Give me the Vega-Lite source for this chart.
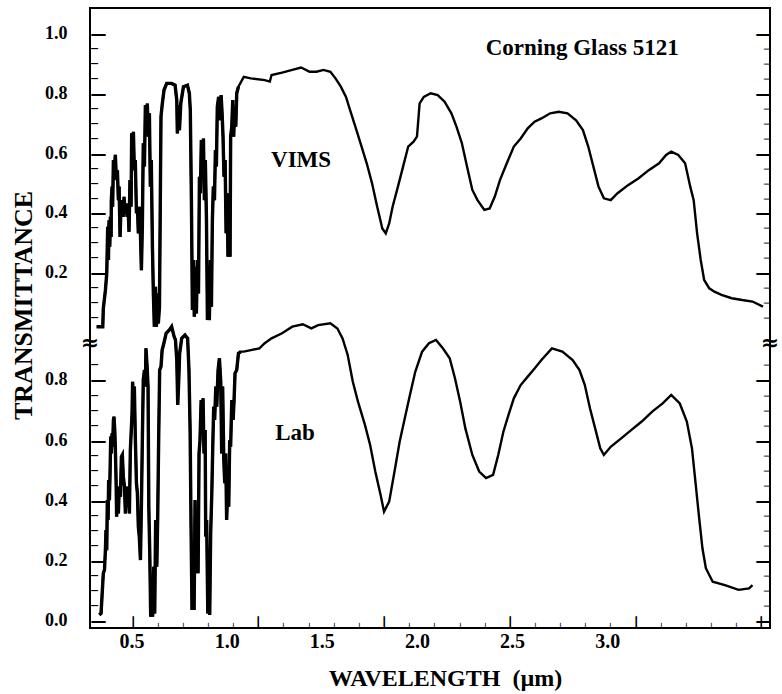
{
  "$schema": "https://vega.github.io/schema/vega-lite/v6.json",
  "width": 680,
  "height": 620,
  "autosize": "none",
  "padding": {"left": 90, "top": 8, "right": 12, "bottom": 66},
  "background": "white",
  "config": {
    "view": {"stroke": "black", "strokeWidth": 2, "fill": null},
    "font": "Liberation Serif",
    "axis": {
      "labelFont": "Liberation Serif", "labelFontWeight": "bold", "labelColor": "black",
      "titleFont": "Liberation Serif", "titleFontWeight": "bold", "titleColor": "black",
      "domain": false, "grid": false, "ticks": false, "labelOverlap": false, "labelFlush": false
    }
  },
  "datasets": {
    "vims": [
      {"w":0.317,"t":0.020},{"w":0.349,"t":0.020},{"w":0.352,"t":0.081},{"w":0.363,"t":0.142},{"w":0.370,"t":0.198},{"w":0.375,"t":0.354},{"w":0.379,"t":0.243},{"w":0.382,"t":0.376},{"w":0.386,"t":0.287},{"w":0.389,"t":0.387},{"w":0.393,"t":0.320},{"w":0.394,"t":0.443},{"w":0.398,"t":0.488},{"w":0.401,"t":0.421},{"w":0.405,"t":0.577},{"w":0.410,"t":0.543},{"w":0.415,"t":0.594},{"w":0.421,"t":0.510},{"w":0.426,"t":0.543},{"w":0.431,"t":0.443},{"w":0.435,"t":0.488},{"w":0.440,"t":0.320},{"w":0.445,"t":0.421},{"w":0.450,"t":0.443},{"w":0.456,"t":0.387},{"w":0.461,"t":0.454},{"w":0.466,"t":0.399},{"w":0.471,"t":0.432},{"w":0.477,"t":0.387},{"w":0.482,"t":0.421},{"w":0.487,"t":0.337},{"w":0.492,"t":0.510},{"w":0.498,"t":0.421},{"w":0.501,"t":0.666},{"w":0.506,"t":0.577},{"w":0.510,"t":0.671},{"w":0.515,"t":0.543},{"w":0.520,"t":0.577},{"w":0.526,"t":0.399},{"w":0.531,"t":0.421},{"w":0.536,"t":0.332},{"w":0.541,"t":0.421},{"w":0.547,"t":0.332},{"w":0.552,"t":0.209},{"w":0.557,"t":0.354},{"w":0.562,"t":0.633},{"w":0.568,"t":0.555},{"w":0.573,"t":0.761},{"w":0.578,"t":0.688},{"w":0.583,"t":0.766},{"w":0.589,"t":0.655},{"w":0.594,"t":0.733},{"w":0.599,"t":0.488},{"w":0.604,"t":0.577},{"w":0.610,"t":0.287},{"w":0.615,"t":0.131},{"w":0.620,"t":0.020},{"w":0.626,"t":0.153},{"w":0.631,"t":0.020},{"w":0.636,"t":0.131},{"w":0.641,"t":0.031},{"w":0.647,"t":0.087},{"w":0.652,"t":0.488},{"w":0.655,"t":0.722},{"w":0.662,"t":0.766},{"w":0.671,"t":0.811},{"w":0.685,"t":0.833},{"w":0.711,"t":0.833},{"w":0.729,"t":0.827},{"w":0.738,"t":0.777},{"w":0.741,"t":0.666},{"w":0.746,"t":0.761},{"w":0.752,"t":0.677},{"w":0.759,"t":0.766},{"w":0.773,"t":0.822},{"w":0.794,"t":0.827},{"w":0.804,"t":0.800},{"w":0.809,"t":0.744},{"w":0.815,"t":0.432},{"w":0.820,"t":0.076},{"w":0.825,"t":0.243},{"w":0.830,"t":0.053},{"w":0.836,"t":0.220},{"w":0.841,"t":0.064},{"w":0.846,"t":0.243},{"w":0.852,"t":0.131},{"w":0.857,"t":0.521},{"w":0.862,"t":0.466},{"w":0.867,"t":0.644},{"w":0.873,"t":0.577},{"w":0.878,"t":0.649},{"w":0.883,"t":0.443},{"w":0.888,"t":0.577},{"w":0.894,"t":0.376},{"w":0.899,"t":0.042},{"w":0.904,"t":0.220},{"w":0.909,"t":0.042},{"w":0.915,"t":0.243},{"w":0.920,"t":0.087},{"w":0.925,"t":0.376},{"w":0.930,"t":0.488},{"w":0.936,"t":0.443},{"w":0.941,"t":0.610},{"w":0.946,"t":0.555},{"w":0.951,"t":0.755},{"w":0.958,"t":0.788},{"w":0.965,"t":0.710},{"w":0.971,"t":0.794},{"w":0.976,"t":0.733},{"w":0.981,"t":0.655},{"w":0.986,"t":0.521},{"w":0.992,"t":0.577},{"w":0.997,"t":0.332},{"w":1.002,"t":0.466},{"w":1.007,"t":0.254},{"w":1.013,"t":0.332},{"w":1.018,"t":0.254},{"w":1.021,"t":0.655},{"w":1.027,"t":0.688},{"w":1.032,"t":0.777},{"w":1.037,"t":0.655},{"w":1.042,"t":0.744},{"w":1.048,"t":0.688},{"w":1.053,"t":0.800},{"w":1.062,"t":0.822},
      {"w":1.090,"t":0.855},{"w":1.127,"t":0.850},{"w":1.200,"t":0.844},{"w":1.227,"t":0.839},{"w":1.236,"t":0.861},{"w":1.291,"t":0.869},{"w":1.345,"t":0.878},{"w":1.391,"t":0.886},{"w":1.436,"t":0.872},{"w":1.472,"t":0.872},{"w":1.509,"t":0.878},{"w":1.545,"t":0.872},{"w":1.572,"t":0.850},{"w":1.600,"t":0.822},{"w":1.627,"t":0.788},{"w":1.654,"t":0.733},{"w":1.682,"t":0.677},{"w":1.709,"t":0.622},{"w":1.736,"t":0.566},{"w":1.764,"t":0.499},{"w":1.791,"t":0.421},{"w":1.818,"t":0.348},{"w":1.836,"t":0.332},{"w":1.854,"t":0.365},{"w":1.872,"t":0.421},{"w":1.900,"t":0.488},{"w":1.927,"t":0.555},{"w":1.954,"t":0.622},{"w":1.982,"t":0.638},{"w":2.000,"t":0.655},{"w":2.014,"t":0.766},{"w":2.036,"t":0.788},{"w":2.072,"t":0.800},{"w":2.109,"t":0.794},{"w":2.145,"t":0.772},{"w":2.181,"t":0.733},{"w":2.208,"t":0.688},{"w":2.236,"t":0.633},{"w":2.263,"t":0.555},{"w":2.291,"t":0.477},{"w":2.318,"t":0.443},{"w":2.354,"t":0.410},{"w":2.382,"t":0.415},{"w":2.409,"t":0.455},{"w":2.436,"t":0.510},{"w":2.472,"t":0.566},{"w":2.509,"t":0.622},{"w":2.545,"t":0.649},{"w":2.582,"t":0.683},{"w":2.618,"t":0.705},{"w":2.654,"t":0.716},{"w":2.700,"t":0.733},{"w":2.745,"t":0.738},{"w":2.791,"t":0.733},{"w":2.836,"t":0.710},{"w":2.872,"t":0.677},{"w":2.900,"t":0.622},{"w":2.927,"t":0.555},{"w":2.954,"t":0.488},{"w":2.982,"t":0.449},{"w":3.018,"t":0.443},{"w":3.054,"t":0.466},{"w":3.109,"t":0.493},{"w":3.163,"t":0.515},{"w":3.218,"t":0.543},{"w":3.272,"t":0.566},{"w":3.309,"t":0.594},{"w":3.336,"t":0.605},{"w":3.373,"t":0.594},{"w":3.409,"t":0.566},{"w":3.436,"t":0.488},{"w":3.454,"t":0.443},{"w":3.472,"t":0.332},{"w":3.491,"t":0.243},{"w":3.509,"t":0.176},{"w":3.536,"t":0.148},{"w":3.563,"t":0.137},{"w":3.600,"t":0.126},{"w":3.654,"t":0.115},{"w":3.709,"t":0.109},{"w":3.763,"t":0.104},{"w":3.818,"t":0.087}
    ],
    "lab": [
      {"w":0.331,"t":0.020},{"w":0.340,"t":0.025},{"w":0.345,"t":0.080},{"w":0.352,"t":0.158},{"w":0.358,"t":0.169},{"w":0.363,"t":0.235},{"w":0.366,"t":0.302},{"w":0.370,"t":0.235},{"w":0.373,"t":0.401},{"w":0.377,"t":0.335},{"w":0.380,"t":0.468},{"w":0.384,"t":0.401},{"w":0.387,"t":0.479},{"w":0.391,"t":0.612},{"w":0.394,"t":0.556},{"w":0.398,"t":0.623},{"w":0.401,"t":0.578},{"w":0.405,"t":0.667},{"w":0.408,"t":0.678},{"w":0.412,"t":0.634},{"w":0.415,"t":0.578},{"w":0.419,"t":0.468},{"w":0.422,"t":0.346},{"w":0.426,"t":0.424},{"w":0.431,"t":0.357},{"w":0.436,"t":0.446},{"w":0.442,"t":0.412},{"w":0.447,"t":0.545},{"w":0.452,"t":0.551},{"w":0.457,"t":0.479},{"w":0.463,"t":0.446},{"w":0.468,"t":0.357},{"w":0.473,"t":0.446},{"w":0.478,"t":0.379},{"w":0.484,"t":0.435},{"w":0.489,"t":0.357},{"w":0.494,"t":0.567},{"w":0.499,"t":0.634},{"w":0.503,"t":0.689},{"w":0.506,"t":0.794},{"w":0.510,"t":0.733},{"w":0.515,"t":0.778},{"w":0.520,"t":0.612},{"w":0.526,"t":0.457},{"w":0.531,"t":0.424},{"w":0.536,"t":0.313},{"w":0.541,"t":0.280},{"w":0.547,"t":0.202},{"w":0.552,"t":0.379},{"w":0.557,"t":0.600},{"w":0.562,"t":0.800},{"w":0.568,"t":0.833},{"w":0.573,"t":0.778},{"w":0.576,"t":0.905},{"w":0.582,"t":0.844},{"w":0.587,"t":0.778},{"w":0.591,"t":0.379},{"w":0.596,"t":0.225},{"w":0.601,"t":0.014},{"w":0.606,"t":0.114},{"w":0.611,"t":0.014},{"w":0.617,"t":0.180},{"w":0.622,"t":0.025},{"w":0.627,"t":0.335},{"w":0.633,"t":0.180},{"w":0.638,"t":0.357},{"w":0.643,"t":0.612},{"w":0.648,"t":0.833},{"w":0.655,"t":0.844},{"w":0.661,"t":0.899},{"w":0.668,"t":0.916},{"w":0.682,"t":0.955},{"w":0.699,"t":0.966},{"w":0.711,"t":0.977},{"w":0.724,"t":0.944},{"w":0.731,"t":0.933},{"w":0.738,"t":0.866},{"w":0.743,"t":0.717},{"w":0.748,"t":0.794},{"w":0.753,"t":0.888},{"w":0.764,"t":0.938},{"w":0.781,"t":0.949},{"w":0.795,"t":0.938},{"w":0.802,"t":0.833},{"w":0.808,"t":0.634},{"w":0.813,"t":0.313},{"w":0.818,"t":0.036},{"w":0.823,"t":0.136},{"w":0.829,"t":0.036},{"w":0.834,"t":0.401},{"w":0.839,"t":0.158},{"w":0.845,"t":0.335},{"w":0.850,"t":0.158},{"w":0.855,"t":0.556},{"w":0.860,"t":0.600},{"w":0.866,"t":0.733},{"w":0.871,"t":0.667},{"w":0.876,"t":0.739},{"w":0.881,"t":0.556},{"w":0.887,"t":0.634},{"w":0.890,"t":0.280},{"w":0.895,"t":0.335},{"w":0.901,"t":0.025},{"w":0.906,"t":0.225},{"w":0.911,"t":0.020},{"w":0.916,"t":0.291},{"w":0.922,"t":0.424},{"w":0.927,"t":0.578},{"w":0.932,"t":0.711},{"w":0.937,"t":0.667},{"w":0.943,"t":0.778},{"w":0.948,"t":0.711},{"w":0.955,"t":0.833},{"w":0.962,"t":0.872},{"w":0.969,"t":0.794},{"w":0.974,"t":0.556},{"w":0.979,"t":0.778},{"w":0.985,"t":0.534},{"w":0.990,"t":0.457},{"w":0.995,"t":0.556},{"w":1.000,"t":0.335},{"w":1.006,"t":0.446},{"w":1.011,"t":0.379},{"w":1.016,"t":0.600},{"w":1.021,"t":0.578},{"w":1.027,"t":0.733},{"w":1.034,"t":0.667},{"w":1.039,"t":0.733},{"w":1.044,"t":0.822},{"w":1.053,"t":0.833},{"w":1.062,"t":0.888},{"w":1.074,"t":0.894},
      {"w":1.090,"t":0.894},{"w":1.127,"t":0.899},{"w":1.172,"t":0.905},{"w":1.200,"t":0.922},{"w":1.236,"t":0.938},{"w":1.291,"t":0.955},{"w":1.345,"t":0.977},{"w":1.400,"t":0.985},{"w":1.445,"t":0.971},{"w":1.481,"t":0.982},{"w":1.545,"t":0.988},{"w":1.582,"t":0.971},{"w":1.609,"t":0.938},{"w":1.636,"t":0.883},{"w":1.663,"t":0.794},{"w":1.690,"t":0.728},{"w":1.727,"t":0.650},{"w":1.754,"t":0.584},{"w":1.781,"t":0.496},{"w":1.809,"t":0.418},{"w":1.827,"t":0.363},{"w":1.854,"t":0.396},{"w":1.882,"t":0.496},{"w":1.909,"t":0.595},{"w":1.936,"t":0.673},{"w":1.963,"t":0.750},{"w":1.991,"t":0.827},{"w":2.027,"t":0.894},{"w":2.063,"t":0.922},{"w":2.100,"t":0.933},{"w":2.136,"t":0.905},{"w":2.172,"t":0.872},{"w":2.200,"t":0.805},{"w":2.227,"t":0.728},{"w":2.254,"t":0.640},{"w":2.291,"t":0.551},{"w":2.327,"t":0.496},{"w":2.363,"t":0.474},{"w":2.400,"t":0.485},{"w":2.427,"t":0.551},{"w":2.454,"t":0.628},{"w":2.481,"t":0.684},{"w":2.509,"t":0.739},{"w":2.545,"t":0.783},{"w":2.582,"t":0.811},{"w":2.618,"t":0.838},{"w":2.654,"t":0.866},{"w":2.709,"t":0.905},{"w":2.764,"t":0.894},{"w":2.818,"t":0.866},{"w":2.854,"t":0.833},{"w":2.882,"t":0.783},{"w":2.909,"t":0.706},{"w":2.936,"t":0.640},{"w":2.963,"t":0.573},{"w":2.982,"t":0.551},{"w":3.018,"t":0.578},{"w":3.073,"t":0.606},{"w":3.127,"t":0.634},{"w":3.181,"t":0.662},{"w":3.236,"t":0.695},{"w":3.291,"t":0.722},{"w":3.336,"t":0.750},{"w":3.381,"t":0.722},{"w":3.418,"t":0.662},{"w":3.445,"t":0.573},{"w":3.463,"t":0.463},{"w":3.481,"t":0.352},{"w":3.500,"t":0.241},{"w":3.518,"t":0.175},{"w":3.554,"t":0.130},{"w":3.618,"t":0.119},{"w":3.690,"t":0.103},{"w":3.745,"t":0.108},{"w":3.763,"t":0.119}
    ]
  },
  "layer": [
    {
      "data": {"name": "vims"},
      "mark": {"type": "line", "color": "black", "strokeWidth": 2.4},
      "encoding": {
        "x": {"field": "w", "type": "quantitative", "scale": {"domain": [0.282, 3.855], "nice": false, "zero": false},
          "axis": {"orient": "bottom", "values": [0.5,1,1.5,2,2.5,3], "format": ".1f",
            "labelFontSize": 20, "labelBaseline": "top", "labelPadding": 3,
            "title": "WAVELENGTH\u00a0 (µm)", "titleFontSize": 24, "titleX": 355, "titleY": 57, "titleBaseline": "alphabetic", "titleAlign": "center"}},
        "y": {"field": "t", "type": "quantitative", "scale": {"domain": [-0.987, 1.085], "nice": false, "zero": false},
          "axis": {"orient": "left", "values": [0.2,0.4,0.6,0.8,1], "format": ".1f",
            "labelFontSize": 18, "labelBaseline": "middle", "labelPadding": 23,
            "title": "TRANSMITTANCE", "titleFontSize": 26, "titleAngle": 270, "titleX": -59, "titleY": 297, "titleBaseline": "alphabetic", "titleAlign": "center"}}
      }
    },
    {
      "data": {"name": "vims"},
      "transform": [{"filter": "datum.w <= 1.07"}],
      "mark": {"type": "line", "color": "black", "strokeWidth": 3.4},
      "encoding": {
        "x": {"field": "w", "type": "quantitative", "scale": {"domain": [0.282, 3.855], "nice": false, "zero": false}, "axis": null},
        "y": {"field": "t", "type": "quantitative", "scale": {"domain": [-0.987, 1.085], "nice": false, "zero": false}, "axis": null}
      }
    },
    {
      "data": {"name": "lab"},
      "mark": {"type": "line", "color": "black", "strokeWidth": 2.4},
      "encoding": {
        "x": {"field": "w", "type": "quantitative", "scale": {"domain": [0.282, 3.855], "nice": false, "zero": false}, "axis": null},
        "y": {"field": "t", "type": "quantitative", "scale": {"domain": [-0.0236, 2.035], "nice": false, "zero": false},
          "axis": {"orient": "left", "values": [0,0.2,0.4,0.6,0.8], "format": ".1f",
            "labelFontSize": 18, "labelBaseline": "middle", "labelPadding": 23, "title": null}}
      }
    },
    {
      "data": {"name": "lab"},
      "transform": [{"filter": "datum.w <= 1.08"}],
      "mark": {"type": "line", "color": "black", "strokeWidth": 3.4},
      "encoding": {
        "x": {"field": "w", "type": "quantitative", "scale": {"domain": [0.282, 3.855], "nice": false, "zero": false}, "axis": null},
        "y": {"field": "t", "type": "quantitative", "scale": {"domain": [-0.0236, 2.035], "nice": false, "zero": false}, "axis": null}
      }
    },
    {
      "data": {"name": "vims"},
      "mark": {"type": "line", "strokeOpacity": 0},
      "encoding": {
        "x": {"field": "w", "type": "quantitative", "scale": {"domain": [0.282, 3.855], "nice": false, "zero": false},
          "axis": {"orient": "bottom", "values": [0.503,1.164,1.824,2.485,3.146,3.807], "labelExpr": "'—'", "labelFont": "DejaVu Sans", "labelFontWeight": "bold", "labelFontSize": 13, "labelAngle": -90, "labelAlign": "left", "labelBaseline": "middle", "labelPadding": 0, "title": null}},
        "y": {"field": "t", "type": "quantitative", "scale": {"domain": [-0.987, 1.085], "nice": false, "zero": false},
          "axis": {"orient": "left", "values": [0.2,0.4,0.6,0.8,1], "labelExpr": "'—'", "labelFont": "DejaVu Sans", "labelFontWeight": "bold", "labelFontSize": 16, "labelAlign": "left", "labelBaseline": "middle", "labelPadding": 0, "title": null}}
      }
    },
    {
      "data": {"name": "vims"},
      "mark": {"type": "line", "strokeOpacity": 0},
      "encoding": {
        "x": {"field": "w", "type": "quantitative", "scale": {"domain": [0.282, 3.855], "nice": false, "zero": false},
          "axis": {"orient": "bottom", "values": [0.635,0.767,0.899,1.032,1.296,1.428,1.56,1.692,1.957,2.089,2.221,2.353,2.617,2.75,2.882,3.014,3.278,3.41,3.543,3.675], "labelExpr": "'—'", "labelFont": "DejaVu Sans", "labelFontWeight": "bold", "labelFontSize": 6, "labelAngle": -90, "labelAlign": "left", "labelBaseline": "middle", "labelPadding": 0, "title": null}},
        "y": {"field": "t", "type": "quantitative", "scale": {"domain": [-0.987, 1.085], "nice": false, "zero": false},
          "axis": {"orient": "left", "values": [0.05,0.1,0.15,0.25,0.3,0.35,0.45,0.5,0.55,0.65,0.7,0.75,0.85,0.9,0.95], "labelExpr": "'—'", "labelFont": "DejaVu Sans", "labelFontWeight": "bold", "labelFontSize": 8, "labelAlign": "left", "labelBaseline": "middle", "labelPadding": 0, "title": null}}
      }
    },
    {
      "data": {"name": "vims"},
      "mark": {"type": "line", "strokeOpacity": 0},
      "encoding": {
        "x": {"field": "w", "type": "quantitative", "scale": {"domain": [0.282, 3.855], "nice": false, "zero": false}, "axis": null},
        "y": {"field": "t", "type": "quantitative", "scale": {"domain": [-0.987, 1.085], "nice": false, "zero": false},
          "axis": {"orient": "right", "values": [0.2,0.4,0.6,0.8,1], "labelExpr": "'—'", "labelFont": "DejaVu Sans", "labelFontWeight": "bold", "labelFontSize": 15, "labelAlign": "right", "labelBaseline": "middle", "labelPadding": 0, "title": null}}
      }
    },
    {
      "data": {"name": "vims"},
      "mark": {"type": "line", "strokeOpacity": 0},
      "encoding": {
        "x": {"field": "w", "type": "quantitative", "scale": {"domain": [0.282, 3.855], "nice": false, "zero": false}, "axis": null},
        "y": {"field": "t", "type": "quantitative", "scale": {"domain": [-0.987, 1.085], "nice": false, "zero": false},
          "axis": {"orient": "right", "values": [0.05,0.1,0.15,0.25,0.3,0.35,0.45,0.5,0.55,0.65,0.7,0.75,0.85,0.9,0.95], "labelExpr": "'—'", "labelFont": "DejaVu Sans", "labelFontWeight": "bold", "labelFontSize": 7, "labelAlign": "right", "labelBaseline": "middle", "labelPadding": 0, "title": null}}
      }
    },
    {
      "data": {"name": "lab"},
      "mark": {"type": "line", "strokeOpacity": 0},
      "encoding": {
        "x": {"field": "w", "type": "quantitative", "scale": {"domain": [0.282, 3.855], "nice": false, "zero": false}, "axis": null},
        "y": {"field": "t", "type": "quantitative", "scale": {"domain": [-0.0236, 2.035], "nice": false, "zero": false},
          "axis": {"orient": "left", "values": [0,0.2,0.4,0.6,0.8], "labelExpr": "'—'", "labelFont": "DejaVu Sans", "labelFontWeight": "bold", "labelFontSize": 16, "labelAlign": "left", "labelBaseline": "middle", "labelPadding": 0, "title": null}}
      }
    },
    {
      "data": {"name": "lab"},
      "mark": {"type": "line", "strokeOpacity": 0},
      "encoding": {
        "x": {"field": "w", "type": "quantitative", "scale": {"domain": [0.282, 3.855], "nice": false, "zero": false}, "axis": null},
        "y": {"field": "t", "type": "quantitative", "scale": {"domain": [-0.0236, 2.035], "nice": false, "zero": false},
          "axis": {"orient": "left", "values": [0.05,0.1,0.15,0.25,0.3,0.35,0.45,0.5,0.55,0.65,0.7,0.75,0.85], "labelExpr": "'—'", "labelFont": "DejaVu Sans", "labelFontWeight": "bold", "labelFontSize": 8, "labelAlign": "left", "labelBaseline": "middle", "labelPadding": 0, "title": null}}
      }
    },
    {
      "data": {"name": "lab"},
      "mark": {"type": "line", "strokeOpacity": 0},
      "encoding": {
        "x": {"field": "w", "type": "quantitative", "scale": {"domain": [0.282, 3.855], "nice": false, "zero": false}, "axis": null},
        "y": {"field": "t", "type": "quantitative", "scale": {"domain": [-0.0236, 2.035], "nice": false, "zero": false},
          "axis": {"orient": "right", "values": [0,0.2,0.4,0.6,0.8], "labelExpr": "'—'", "labelFont": "DejaVu Sans", "labelFontWeight": "bold", "labelFontSize": 15, "labelAlign": "right", "labelBaseline": "middle", "labelPadding": 0, "title": null}}
      }
    },
    {
      "data": {"name": "lab"},
      "mark": {"type": "line", "strokeOpacity": 0},
      "encoding": {
        "x": {"field": "w", "type": "quantitative", "scale": {"domain": [0.282, 3.855], "nice": false, "zero": false}, "axis": null},
        "y": {"field": "t", "type": "quantitative", "scale": {"domain": [-0.0236, 2.035], "nice": false, "zero": false},
          "axis": {"orient": "right", "values": [0.05,0.1,0.15,0.25,0.3,0.35,0.45,0.5,0.55,0.65,0.7,0.75,0.85], "labelExpr": "'—'", "labelFont": "DejaVu Sans", "labelFontWeight": "bold", "labelFontSize": 7, "labelAlign": "right", "labelBaseline": "middle", "labelPadding": 0, "title": null}}
      }
    },
    {
      "data": {"values": [{"label": "Corning Glass 5121"}]},
      "mark": {"type": "text", "font": "Liberation Serif", "fontWeight": "bold", "fontSize": 23, "fill": "black", "align": "center", "baseline": "alphabetic"},
      "encoding": {
        "x": {"datum": 2.868, "type": "quantitative", "scale": {"domain": [0.282, 3.855], "nice": false, "zero": false}, "axis": null},
        "y": {"datum": 0.928, "type": "quantitative", "scale": {"domain": [-0.987, 1.085], "nice": false, "zero": false}, "axis": null},
        "text": {"field": "label", "type": "nominal"}
      }
    },
    {
      "data": {"values": [{"label": "VIMS"}]},
      "mark": {"type": "text", "font": "Liberation Serif", "fontWeight": "bold", "fontSize": 23, "fill": "black", "align": "center", "baseline": "alphabetic"},
      "encoding": {
        "x": {"datum": 1.391, "type": "quantitative", "scale": {"domain": [0.282, 3.855], "nice": false, "zero": false}, "axis": null},
        "y": {"datum": 0.553, "type": "quantitative", "scale": {"domain": [-0.987, 1.085], "nice": false, "zero": false}, "axis": null},
        "text": {"field": "label", "type": "nominal"}
      }
    },
    {
      "data": {"values": [{"label": "Lab"}]},
      "mark": {"type": "text", "font": "Liberation Serif", "fontWeight": "bold", "fontSize": 23, "fill": "black", "align": "center", "baseline": "alphabetic"},
      "encoding": {
        "x": {"datum": 1.359, "type": "quantitative", "scale": {"domain": [0.282, 3.855], "nice": false, "zero": false}, "axis": null},
        "y": {"datum": 0.601, "type": "quantitative", "scale": {"domain": [-0.0236, 2.035], "nice": false, "zero": false}, "axis": null},
        "text": {"field": "label", "type": "nominal"}
      }
    },
    {
      "data": {"values": [{"label": "≈"}]},
      "mark": {"type": "text", "font": "DejaVu Sans", "fontWeight": "bold", "fontSize": 22, "fill": "black", "align": "center", "baseline": "middle"},
      "encoding": {
        "x": {"datum": 0.282, "type": "quantitative", "scale": {"domain": [0.282, 3.855], "nice": false, "zero": false}, "axis": null},
        "y": {"datum": -0.035, "type": "quantitative", "scale": {"domain": [-0.987, 1.085], "nice": false, "zero": false}, "axis": null},
        "text": {"field": "label", "type": "nominal"}
      }
    },
    {
      "data": {"values": [{"label": "≈"}]},
      "mark": {"type": "text", "font": "DejaVu Sans", "fontWeight": "bold", "fontSize": 22, "fill": "black", "align": "center", "baseline": "middle"},
      "encoding": {
        "x": {"datum": 3.855, "type": "quantitative", "scale": {"domain": [0.282, 3.855], "nice": false, "zero": false}, "axis": null},
        "y": {"datum": -0.035, "type": "quantitative", "scale": {"domain": [-0.987, 1.085], "nice": false, "zero": false}, "axis": null},
        "text": {"field": "label", "type": "nominal"}
      }
    }
  ],
  "resolve": {"scale": {"y": "independent"}, "axis": {"x": "independent", "y": "independent"}}
}
